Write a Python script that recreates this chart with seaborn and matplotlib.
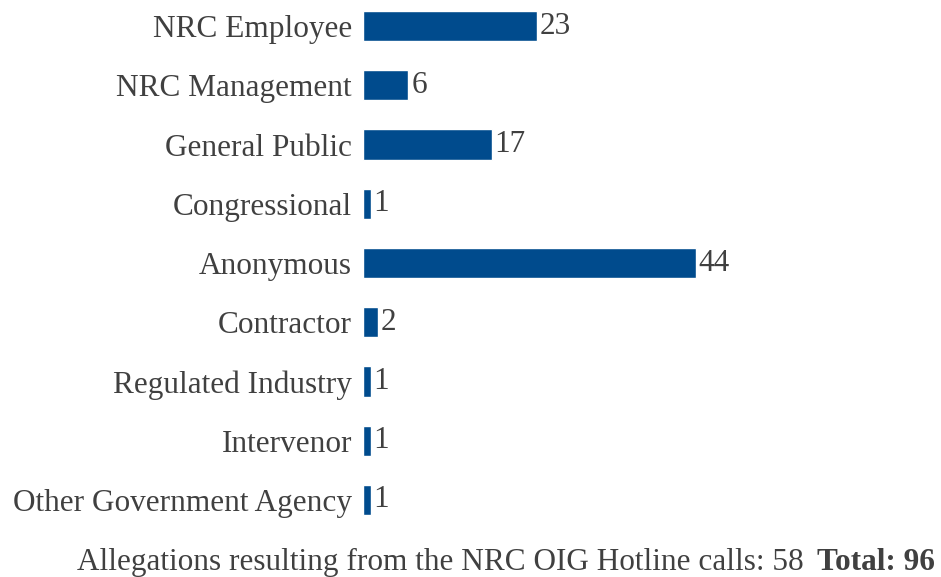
import matplotlib
matplotlib.use('Agg')
import matplotlib.pyplot as plt
import seaborn as sns

# Data
categories = ['NRC Employee', 'NRC Management', 'General Public', 'Congressional',
              'Anonymous', 'Contractor', 'Regulated Industry', 'Intervenor',
              'Other Government Agency']
counts = [23, 6, 17, 1, 44, 2, 1, 1, 1]
footer_text = 'Allegations resulting from the NRC OIG Hotline calls: 58'
total_text = 'Total: 96'

sns.set_style('white')
plt.rcParams['font.family'] = ['Liberation Serif', 'DejaVu Serif']

bar_color = '#004B8D'
text_color = '#404040'
fs = 22.5

fig = plt.figure(figsize=(9.41, 5.77), dpi=100)
ax = fig.add_axes([0.3858, 0.0815, 0.604, 0.9185])

sns.barplot(x=counts, y=categories, orient='h', color=bar_color,
            width=0.51, saturation=1, ax=ax)

ax.set_xlim(0, 75.2)
ax.set_ylim(8.506, -0.44)
for c in ax.containers:
    ax.bar_label(c, padding=2, fontsize=fs, color=text_color)

ax.set_xticks([])
ax.set_xlabel('')
ax.set_ylabel('')
ax.tick_params(axis='y', length=0, pad=8, labelsize=fs, labelcolor=text_color)
sns.despine(ax=ax, left=True, bottom=True, top=True, right=True)

# footer: bold total at the right, normal text before it
t_total = fig.text(0.994, 0.012, total_text, ha='right', va='baseline',
                   fontsize=fs, fontweight='bold', color=text_color)
fig.canvas.draw()
bb = t_total.get_window_extent()
x_left = (bb.x0 - 14) / fig.bbox.width
fig.text(x_left, 0.012, footer_text, ha='right', va='baseline',
         fontsize=fs, color=text_color)

fig.savefig('out.png', dpi=100)
